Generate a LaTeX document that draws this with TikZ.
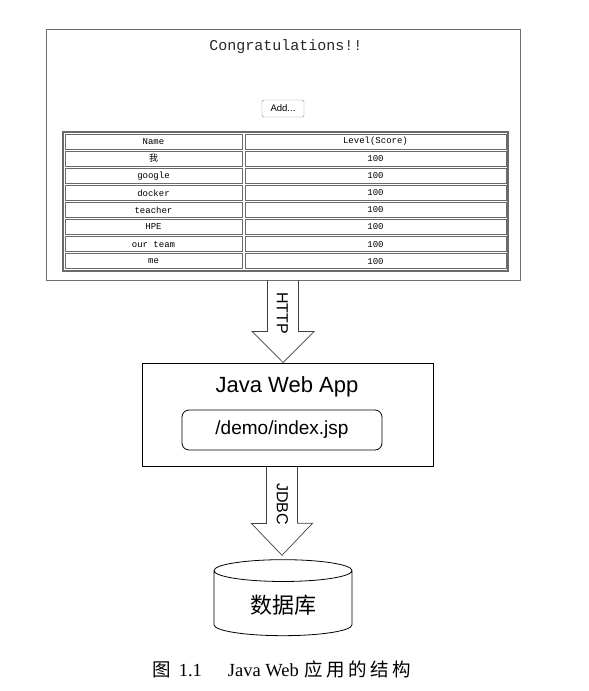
\documentclass[tikz,border=0pt]{standalone}
\usepackage{fontspec}
\setmainfont{Liberation Serif}
\setsansfont{Liberation Sans}
\setmonofont{Liberation Mono}
\newfontfamily\cjk{Noto Sans CJK SC}
\usetikzlibrary{shapes.geometric}
\definecolor{frame}{HTML}{6E6E6E}
\definecolor{cellline}{HTML}{6A6A6A}

\begin{document}
\begin{tikzpicture}[x=1pt,y=-1pt,
  cell/.style={draw=cellline,line width=0.9pt,inner sep=0pt,minimum height=15pt,font=\ttfamily\fontsize{9}{10}\selectfont},
  namecell/.style={cell,minimum width=177pt},
  scorecell/.style={cell,minimum width=261pt},
  bigarrow/.style={draw=black!75,line width=0.7pt}]
\useasboundingbox (0,0) rectangle (589,691);
% browser page
\node[draw=frame,line width=0.8pt,minimum width=474pt,minimum height=251pt,inner sep=0pt] (page) at (283,154.5) {};
\node[font=\ttfamily\fontsize{15}{18}\selectfont,text=black!85] (title) at (286,47) {Congratulations!!};
\node[draw=black!45,rounded corners=1.5pt,minimum width=42pt,minimum height=17pt,inner sep=0pt,font=\sffamily\fontsize{9.5}{11}\selectfont] (add) at (283,108.5) {Add...};
% table
\node[draw=cellline,line width=1.4pt,minimum width=445pt,minimum height=139pt,inner sep=0pt] (tbl) at (285.5,201.5) {};
\node[namecell] (n0) at (153.5,141.5) {Name};
\node[scorecell] (v0) at (375.5,141.5) {Level(Score)};
\foreach \nm [count=\i] in {{\cjk 我},google,docker,teacher,HPE,our team,me} {
  \node[namecell] (n\i) at (153.5,141.5+17.1*\i) {\nm};
  \node[scorecell] (v\i) at (375.5,141.5+17.1*\i) {100};
}
% app
\node[draw,line width=1pt,minimum width=291pt,minimum height=103pt,inner sep=0pt] (app) at (287.5,414.5) {};
\node[font=\sffamily\fontsize{22}{26}\selectfont] (apptitle) at (287,387) {Java Web App};
\node[draw,line width=0.8pt,rounded corners=7pt,minimum width=200pt,minimum height=40pt,font=\sffamily\fontsize{19}{22}\selectfont] (jsp) at (282,430) {/demo/index.jsp};
% database
\node[draw,line width=0.8pt,cylinder,shape border rotate=90,aspect=0.3,minimum width=138pt,minimum height=76pt,font=\cjk\fontsize{22}{26}\selectfont] (db) at (283,605) {数据库};
% arrows
\draw[bigarrow] ([xshift=-15.5pt]page.south) -- ++(0,51) -- ++(-15.5,0) -- (page.south |- app.north) -- ++(31,-31) -- ++(-15.5,0) -- ([xshift=15.5pt]page.south);
\node[rotate=-90,font=\sffamily\fontsize{16}{18}\selectfont] (http) at (282.5,313) {HTTP};
\coordinate (jtop) at (app.south -| jsp.south);
\coordinate (jtip) at ([yshift=4pt]db.north -| jtop);
\draw[bigarrow] ([xshift=-15.5pt]jtop) -- ++(0,57) -- ++(-15,0) -- (jtip) -- ++(30.5,-32) -- ++(-15,0) -- ([xshift=15.5pt]jtop);
\node[rotate=-90,font=\sffamily\fontsize{16}{18}\selectfont] (jdbc) at (282.5,504) {JDBC};
% caption
\node[font=\fontsize{18.5}{20}\selectfont] (cap) at (281.5,669) {{\cjk 图}\hspace{8pt}1.1\hspace{26pt}Java Web\hspace{6pt}{\cjk\addfontfeature{LetterSpace=18}应用的结构}};
\end{tikzpicture}
\end{document}
